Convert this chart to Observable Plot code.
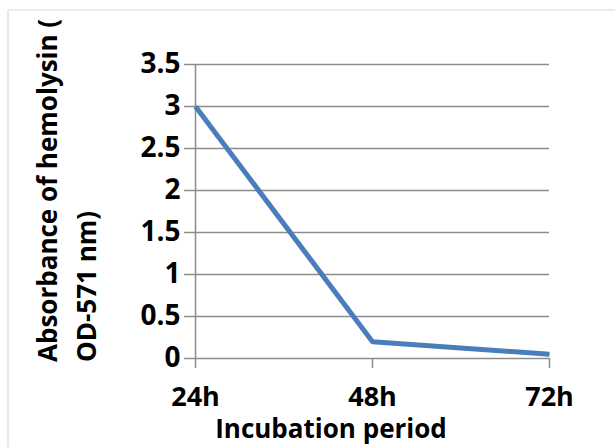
<!DOCTYPE html>
<html>
<head>
<meta charset="utf-8">
<script src="https://cdn.jsdelivr.net/npm/d3@7"></script>
<script src="https://cdn.jsdelivr.net/npm/@observablehq/plot@0.6"></script>
<style>
  html, body { margin: 0; padding: 0; background: #fff; }
  #chart { width: 615px; height: 447px; overflow: hidden; }
</style>
</head>
<body>
<div id="chart"></div>
<script>
// Data
const periods = ["24h", "48h", "72h"];
const absorbance = [3.0, 0.2, 0.05];
const yTicks = [0, 0.5, 1, 1.5, 2, 2.5, 3, 3.5];
const yTickLabels = ["0", "0.5", "1", "1.5", "2", "2.5", "3", "3.5"];
const xTitle = "Incubation period";
const yTitleLines = ["Absorbance of hemolysin (", "OD-571 nm)"];

const data = periods.map((p, i) => ({period: p, value: absorbance[i]}));
const gridColor = "#8c8c8c";
const font = "'Open Sans', 'DejaVu Sans', sans-serif";

const plot = Plot.plot({
  width: 615,
  height: 447,
  marginLeft: 194,
  marginRight: 66,
  marginTop: 64,
  marginBottom: 89,
  style: {fontFamily: font, fontSize: "27px", fontWeight: "bold", color: "#000", background: "#fff", overflow: "visible"},
  x: {type: "point", domain: periods, padding: 0},
  y: {domain: [0, 3.5]},
  marks: [
    Plot.gridY(yTicks, {stroke: gridColor, strokeOpacity: 1, strokeWidth: 1.5}),
    Plot.axisY(yTicks, {
      tickSize: 10, tickPadding: 4, stroke: gridColor, strokeWidth: 1.5, fontSize: 28, fontWeight: "bold",
      tickFormat: d => yTickLabels[yTicks.indexOf(d)], label: null, fill: "#000"
    }),
    Plot.ruleX([periods[0]], {stroke: gridColor, strokeWidth: 1.5}),
    Plot.axisX(periods, {tickSize: 10, tickPadding: 18, stroke: gridColor, strokeWidth: 1.5, fontSize: 27, fontWeight: "bold", label: null, fill: "#000"}),
    Plot.line(data, {x: "period", y: "value", stroke: "#4a7ebb", strokeWidth: 5, strokeLinejoin: "miter", strokeLinecap: "butt"})
  ]
});

const svg = d3.select(plot);

// chart border (top and left edges visible)
svg.insert("line", ":first-child").attr("x1", 8).attr("y1", 10).attr("x2", 615).attr("y2", 10)
  .attr("stroke", "#d9d9d9").attr("stroke-width", 1.2);
svg.insert("line", ":first-child").attr("x1", 8).attr("y1", 10).attr("x2", 8).attr("y2", 447)
  .attr("stroke", "#d9d9d9").attr("stroke-width", 1.2);

// x title
svg.append("text").text(xTitle)
  .attr("x", 331).attr("y", 438).attr("text-anchor", "middle")
  .style("font-size", "26px").style("font-weight", "bold").attr("fill", "#000");

// y title (two lines, rotated)
const yBase = [57, 96];
yTitleLines.forEach((t, i) => {
  svg.append("text").text(t)
    .attr("transform", `translate(${yBase[i]},362) rotate(-90)`)
    .attr("text-anchor", "start")
    .style("font-size", "26px").style("font-weight", "bold").attr("fill", "#000");
});

document.getElementById("chart").appendChild(plot);
</script>
</body>
</html>
